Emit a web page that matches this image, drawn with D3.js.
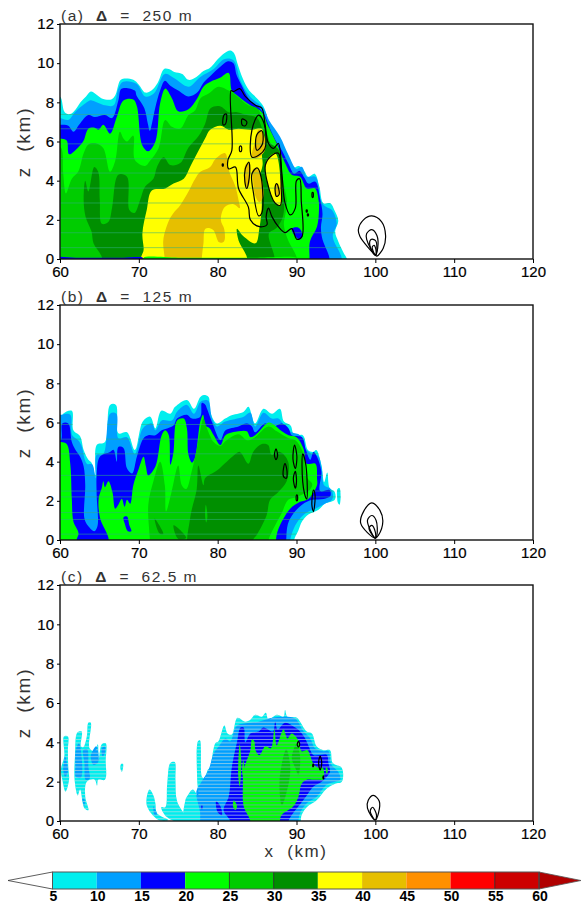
<!DOCTYPE html>
<html>
<head>
<meta charset="utf-8">
<script src="https://cdn.jsdelivr.net/npm/d3@7"></script>
<style>
body { margin: 0; background: #fff; }
text { font-family: "Liberation Sans", Arial, sans-serif; }
.tick text { font-family: "Liberation Sans Narrow", "Liberation Sans", sans-serif; font-size: 15px; fill: #000; stroke: #000; stroke-width: .2px; }
.lab { font-family: "Liberation Sans", sans-serif; fill: #333; font-size: 17px; letter-spacing: 1.6px; }
</style>
</head>
<body>
<div id="chart"></div>
<script>
// colour bar
var levels = [5, 10, 15, 20, 25, 30, 35, 40, 45, 50, 55, 60];
var cellColors = ['#00eeee', '#009fff', '#0000ff', '#00ff00', '#00cc00', '#008f00', '#ffff00', '#e6bf00', '#ff9000', '#ff0000', '#cd0000'];
var overColor = '#b00000';
var xTicks = [60, 70, 80, 90, 100, 110, 120];
var zTicks = [0, 2, 4, 6, 8, 10, 12];

// panel a, filled contours, [x km, z km]
var a5 = [[59,8.3],[60,8.3],[60.6,7.5],[61.3,7.4],[62,7.65],[62.6,8.0],[63.3,8.3],[63.9,8.55],[64.6,8.4],[65.3,8.2],[66.5,8.15],[67,8.35],[67.6,9.1],[68,9.2],[69.3,9.15],[70,8.9],[70.8,8.5],[71.6,8.6],[72.4,9.0],[73.2,9.7],[73.8,9.7],[74.5,9.55],[75.5,9.45],[76.3,9.15],[77.3,9.3],[78.2,9.6],[79,9.75],[80,10.2],[80.8,10.5],[81.6,10.65],[82.1,10.5],[82.5,10],[83.2,9.2],[84,8.6],[85,8.2],[85.8,7.8],[86.5,7.0],[87,6.4],[88,5.8],[88.8,5.2],[89.5,4.65],[90.3,4.75],[90.9,4.55],[91.5,4.2],[92.3,4.35],[92.9,3.7],[93.4,2.85],[94.3,2.85],[94.8,2.5],[95.3,1.95],[94.9,1.4],[95.3,0.9],[96,0.3],[96.4,0],[96.4,-0.5],[59,-0.5]];
var a10 = [[59,7.2],[60,7.2],[61.05,7.1],[61.9,7.5],[63.6,8.05],[64,8.1],[65.7,7.85],[66.8,7.85],[67.4,8.7],[68,9.05],[69.7,8.95],[70.8,8.3],[71.9,8.45],[73.3,9.45],[74.6,9.2],[76.3,8.8],[77.8,9.3],[79.5,9.7],[80.8,10.2],[82,10.15],[82.9,9.1],[84.1,8.3],[85.8,7.7],[86.5,7.1],[87.9,6.25],[89,5.3],[90,4.6],[90.7,4.7],[91.3,4.2],[92.4,4.2],[93.2,2.9],[93.8,2.65],[94.5,2.5],[95.1,1.8],[94.6,1.15],[95.7,0.1],[95.7,-0.5],[59,-0.5]];
var a15 = [[59,6.85],[60,6.85],[61.05,6.8],[61.7,6.5],[62.5,6.9],[63.6,7.35],[64.4,7.25],[65.7,7.35],[66.6,7.2],[67.4,8.1],[67.8,8.7],[69.5,8.6],[69.7,8.35],[70.7,7.7],[71.15,6.9],[71.4,6.55],[71.65,6.9],[72.1,7.75],[72.7,8.6],[73.3,9.1],[74,8.85],[75,8.6],[76.3,8.3],[77.4,8.5],[78.2,9.0],[79.2,9.4],[80.3,9.8],[81.3,10.1],[82,10],[82.4,9.4],[83,8.9],[84,8.15],[85.2,7.75],[85.9,7.4],[86.5,6.8],[87.3,6.1],[88.2,5.5],[89,4.85],[89.7,4.35],[90.4,4.5],[91,4.15],[91.5,3.85],[92.4,3.95],[93,3.05],[93.3,2.3],[93.1,1.6],[93.3,1.0],[94,0.3],[94.2,0],[94.2,-0.5],[59,-0.5]];
var a20 = [[59,6.15],[60,6.15],[60.85,6.05],[61.15,5.35],[62.3,5.7],[63,6.05],[63.6,6.65],[64.4,6.7],[64.9,6.6],[65.5,6.85],[66.35,6.4],[67.2,7.25],[68.05,8.1],[69.3,8.15],[69.75,7.8],[70.45,5.8],[71.2,5.5],[72.1,6],[72.7,7.95],[73.35,8.7],[74.2,8.2],[75,7.55],[76.3,7.65],[77.4,8.2],[78.2,8.8],[79.1,9.05],[80.3,9.25],[81.4,9.5],[81.8,8.6],[82.65,8.3],[84.15,7.85],[85.6,7.5],[86.45,6.75],[87.5,5.9],[88.55,4.9],[89.4,4.3],[90.45,4.2],[91.3,3.6],[92.35,3.6],[92.8,3],[92.85,2.5],[92.6,1.65],[91.7,0.9],[91.65,0.1],[91.65,-0.5],[59,-0.5]];
var a20hole = [[89.4,1.55],[90.25,1.6],[90.8,1.2],[90.45,1.0],[89.85,1.15]];
var a25 = [[59,5.7],[60.1,5.7],[60.4,4.4],[60.75,3.35],[61.5,4.1],[62.3,4.45],[63,5.4],[63.6,5.85],[64.65,5.9],[65.5,5.65],[66.35,4.45],[67,5],[67.6,6.5],[68.05,6.15],[68.5,6],[69.3,6.3],[69.5,5.05],[70.8,4.75],[71.4,5],[72.5,5.65],[73.35,7.1],[74.2,6.75],[75.25,6.65],[76.3,7.35],[77.15,7.6],[77.8,8.2],[78.85,8.45],[80.1,8.8],[81.4,8.6],[82.65,8.25],[83.9,7.85],[85,7.7],[85.8,7.0],[86.9,5.7],[87.9,5],[88.35,3.9],[88.8,2.9],[88.6,2.3],[88.4,1.75],[88.9,1.0],[90,0.1],[90,-0.5],[59,-0.5]];
var a30 = [[63.2,4.0],[63.6,3.45],[64.35,4.7],[64.85,4.45],[65.05,3],[65.3,1.8],[66.15,1.9],[66.6,2.6],[67.4,4.3],[68.5,4.2],[68.8,2.5],[69.45,2.35],[70.15,3],[70.8,3.7],[71.85,4.1],[72.3,4.7],[73.15,5.2],[74,4.8],[75.25,4.9],[76.3,5.7],[77.6,6.3],[78.4,6.9],[79.1,7.7],[80.3,7.8],[81.4,7.5],[82.45,7.5],[83.7,7.35],[85,7.2],[85.8,6.5],[86.7,5.9],[87.7,5.6],[88.2,4],[88.4,3],[88.3,2.2],[87.5,1.6],[86.5,1.3],[87.2,0.1],[87.2,-0.5],[65.3,-0.5],[65.3,0.1],[64.25,0.8],[64,1.4],[63.25,2.15],[63,3]];
var a35 = [[70.3,-0.5],[70.3,0.1],[70.6,0.45],[70.45,1.3],[71,2.5],[71.65,3.5],[73.35,3.6],[74.4,3.85],[75.7,4.1],[76.5,4.7],[77.6,5.55],[78.4,6.15],[79.05,6.6],[80.35,6.8],[81.4,6.6],[82.65,6.65],[84.2,6.6],[85.6,6.65],[85.8,6.25],[85.6,5.4],[85.7,4.8],[85.2,4],[85.6,2.85],[85.3,1.6],[84.8,0.8],[83.3,1.15],[82.45,1.55],[82.65,0.95],[83.7,0.1],[83.7,-0.5]];
var a35b = [[86.25,5.05],[87.3,5.4],[88,4],[88,2.75],[87.3,2.85],[86.25,4],[86.05,4.5]];
var a40 = [[73.25,-0.5],[73.25,0.1],[73.1,0.95],[73.75,1.9],[74.4,2.35],[75.25,2.75],[76.3,3.45],[77.15,4.1],[77.8,4.45],[79.05,4.7],[79.7,5.1],[80.95,5.4],[81.4,4.55],[82.25,3.7],[82.65,3],[82.8,2.6],[82,2.8],[80.9,2.65],[80.4,2],[80.85,1.5],[80.8,0.9],[80.2,0.85],[79.4,1.5],[78.45,1.55],[78.2,0.8],[78,0.1],[78,-0.5]];
var a40b = [[84.8,6.05],[85.2,6.6],[85.8,6.4],[86,5.55],[85,5.15],[84.35,5.2]];
var a40c = [[84.5,4.6],[85,4.6],[85.5,4.2],[85.8,3.2],[85.3,2.9],[84.8,3.2],[84.5,4]];
var a40d = [[83.5,4.8],[84,4.9],[84,3.8],[83.6,3.6]];
var a40e = [[87.3,3.8],[87.7,3.8],[87.85,3.3],[87.45,3.2]];
var a15floor = [[59,0.07],[62,0.07],[65,0.07],[68,0.07],[70.5,0.07],[70.6,0],[70.5,-0.07],[68,-0.07],[65,-0.07],[62,-0.07],[59,-0.07]];
var a20floor = [[70.6,0.07],[75,0.07],[80,0.07],[85,0.07],[90,0.07],[90.1,0],[90,-0.07],[85,-0.07],[80,-0.07],[75,-0.07],[70.6,-0.07]];

// panel a, black line contours
var aLines = [
  [[81.7,8.6],[82,8.55],[82.8,8.7],[83.5,8.3],[84.8,7.85],[85.6,7.7],[86,6.9],[86.45,5.9],[87.1,5.65],[87.7,5.9],[88.15,4.35],[88.55,2.85],[89.2,2.25],[89.85,2.6],[90,4.0],[90.4,4.1],[90.6,3],[90.7,1.15],[90.05,1.0],[89.4,1.55],[88.55,1.35],[87.7,1.65],[86.9,2.15],[86.45,2.6],[86.15,2.15],[86.25,1.75],[85.3,1.65],[84.15,2.0],[83.9,2.65],[82.65,3.6],[82.25,4.7],[81.4,4.6],[81.3,5.05],[81.8,5.55]],
  [[84.35,6.6],[85.2,7.35],[85.9,6.9],[86,5.65],[85.2,5.3],[84.35,5.2]],
  [[84.8,5.9],[85.05,6.4],[85.6,6.55],[85.7,5.9],[85,5.55]],
  [[83.5,4.6],[83.95,4.95],[84.05,4.35],[83.7,3.6],[83.45,3.95]],
  [[84.35,4.35],[85,4.65],[85.5,4.2],[85.6,2.35],[85.2,2.2],[84.55,3.35]],
  [[86.05,4.8],[86.9,5.3],[87.7,5.4],[88.05,3.7],[87.95,2.75],[87.3,2.85],[86.25,4]],
  [[87.5,3.85],[87.8,3.3],[87.45,3.2],[87.3,3.7]],
  [[80.8,7.35],[81.1,7.4],[81,6.9],[80.7,6.85]],
  [[83.1,7.15],[83.7,7.0],[83.5,6.8],[83.1,6.85]],
  [[82.8,5.75],[83,5.75],[83,5.5],[82.8,5.5]],
  [[92,3.4],[92.1,3.4],[92.1,3.15],[92,3.15]],
  [[91.25,2.5],[91.35,2.5],[91.35,2.4],[91.25,2.4]],
  [[91.4,2.3],[91.5,2.3],[91.5,2.2],[91.4,2.2]],
  [[80.6,4.85],[80.7,4.85],[80.7,4.75],[80.6,4.75]],
  [[100,0.2],[98.05,1.15],[97.85,1.5],[98.5,2],[99.55,2.2],[100.8,1.9],[101.3,1.2],[101,0.55],[100.2,0.15]],
  [[100,0.2],[98.9,1.0],[98.9,1.3],[99.55,1.5],[100.2,1.2],[100.3,0.55]],
  [[100,0.2],[99.3,0.7],[99.45,1.0],[100,0.95],[100.2,0.55]],
  [[100,0.2],[99.6,0.6],[99.85,0.7],[100.1,0.4]]
];
var aStripes = [0.58, 1.34, 2.08, 2.86, 3.62, 4.39, 5.12, 5.88, 6.65, 7.38];

// panel b, filled contours
var b5 = [[59,6],[60.1,6.05],[60.4,6.45],[61.5,6.6],[61.7,5.6],[62.55,5.3],[63,4.6],[63.6,4.1],[64,3.95],[64.5,3.3],[64.65,4.85],[65.7,5],[66.35,6.9],[67.1,6.9],[67.4,5.45],[68.5,5.5],[69.5,4.6],[70.5,6.05],[71.45,6.3],[72.1,5.7],[72.85,6.6],[74,6.45],[74.6,6.8],[76.1,7.15],[77,6.7],[77.8,7.3],[78.25,7.4],[78.85,7.3],[79.05,6.55],[79.9,5.95],[80.95,6.2],[81.6,6.35],[83.3,6.55],[83.9,6.8],[84.75,5.95],[85.8,6.7],[86.9,6.45],[87.9,6.7],[88.4,6.05],[89.25,5.85],[89.7,5.35],[90.8,5.35],[91.45,4.6],[92.1,4.5],[92.5,4.6],[93.15,3.85],[93.5,2.95],[93.9,3.45],[94.2,2.65],[94.85,2.45],[94.85,2.05],[93.6,1.85],[92.8,1.55],[91.5,1.3],[90.7,0.95],[90.25,0.5],[89.7,0],[89.7,-0.5],[59,-0.5]];
var b5b = [[95.2,2.6],[95.45,2.65],[95.6,2.2],[95.45,1.8],[95.25,1.9],[95.15,2.2]];
var b10 = [[59,6.3],[60.2,6.4],[61.3,6.4],[61.55,5.35],[62.3,5.1],[62.7,4.85],[63.4,3.9],[64.1,3.85],[64.5,3.15],[64.65,4.35],[65.5,4.4],[66.35,6.45],[67.15,6.45],[67.4,5.2],[68.5,5.25],[69.5,4.4],[70.5,5.7],[71.65,5.95],[72.1,5.6],[72.9,6.1],[74.2,6.1],[74.85,6.55],[76.1,6.9],[77,6.45],[77.8,7.05],[78.45,7.15],[78.85,7.1],[79.3,6.2],[79.9,5.8],[80.95,6.05],[83.3,6.3],[84.15,6.5],[84.75,5.8],[85.8,6.5],[86.9,6.2],[87.7,6.2],[88.55,5.8],[89.4,5.5],[90.45,5.35],[91.1,4.7],[92.1,4.35],[92.75,4.3],[93.2,3.65],[93.5,2.8],[94.2,2.65],[94.6,2.4],[94.5,2.05],[93.6,1.85],[92.4,1.6],[91.3,1.4],[90.45,1.1],[89.85,0.75],[89.2,0],[89.2,-0.5],[59,-0.5]];
var b15 = [[59,5.1],[60.1,5.1],[60.3,5.95],[61.05,5.95],[61.5,5.0],[61.9,4.65],[62.55,4.25],[63,3.75],[63.2,2.8],[63.1,1.1],[63.6,0.7],[64.35,0.45],[64.75,0.7],[64.65,2.3],[64.65,3.3],[65.05,4.25],[66.35,4.5],[66.8,4.6],[67.2,4],[67.4,4.75],[68.05,4.7],[68.5,3.65],[69.15,3.4],[69.75,4.25],[70.6,5.2],[71.2,5.35],[72.1,5.35],[72.9,5.6],[74.4,5.85],[74.85,6.2],[76.1,6.4],[76.75,6.2],[77.8,6.3],[78,7.0],[78.45,6.9],[78.65,6.7],[79.3,6],[80.35,5.1],[81,5.6],[82.65,5.8],[83.7,5.95],[84.35,5.8],[84.75,5.5],[86,5.95],[87.1,5.8],[88.15,5.95],[89,5.7],[89.4,5.35],[90.7,5.25],[91.2,4.6],[91.75,4.1],[92.15,4.5],[92.6,4.25],[93.15,3.5],[93,2.5],[94.2,2.55],[94.3,2.25],[93.45,2.1],[92,2.05],[90.7,1.8],[89.6,1.35],[88.9,0.8],[88.7,0],[88.7,-0.5],[59,-0.5]];
var b20 = [[59,5],[60.1,5.0],[60.85,4.9],[61.3,3.9],[61.5,2.1],[61.7,0.95],[62.35,0.35],[62.1,0],[62.1,-0.5],[59,-0.5]];
var b20b = [[66.15,-0.5],[66.15,0.1],[65.1,1.1],[64.9,2.1],[65.3,2.65],[65.5,3],[65.7,2.7],[66.15,3],[66.65,2.45],[67,1.6],[67.4,1.8],[67.85,2.1],[68.2,1.7],[68.5,2.05],[68.9,1.85],[69.3,2.8],[70,3.65],[70.6,4.25],[70.9,3.75],[71.2,3.3],[72.1,3.75],[72.9,5.35],[73.35,5.6],[73.8,5.35],[74,3.85],[74.4,4.5],[74.85,6.1],[75.7,6.2],[76.1,5.7],[76.3,4.35],[76.75,3.95],[77.15,4.25],[77.8,6.05],[78.15,6.4],[78.45,5.85],[79,5.7],[79.5,5.35],[80.35,4.85],[81,5.35],[82.65,5.55],[83.7,5.55],[84.15,5.25],[84.75,5.35],[86.45,6.0],[87.1,5.9],[88.15,5.55],[89,5.35],[90,5.25],[90.9,4.65],[91.3,3.9],[92.4,3.9],[92.6,3.15],[92.6,2.8],[91.5,2.1],[90.45,1.95],[89.2,1.6],[88.35,1.1],[87.6,0.45],[87.4,0],[87.4,-0.5]];
var b20hole = [[68.05,1.15],[68.5,1.2],[68.8,0.75],[69.05,0.45],[68.6,0.45],[68.2,0.85]];
var b25 = [[71.4,-0.5],[71.4,0],[71.2,1.8],[71.85,3],[72.7,4],[73.3,2.8],[73.45,1.45],[74.15,2.45],[75,3.8],[75.45,2.8],[76,2.6],[76.7,3.5],[77.35,4.65],[77.8,5.6],[78.2,6.2],[78.65,5.7],[79.5,5],[80.35,4.8],[81,5.05],[82.65,5.4],[83.7,5.1],[84.55,5.2],[86.45,5.8],[87.5,5.55],[89,5.2],[89.85,5.1],[90.7,4.6],[91,4.0],[91.3,3.2],[92,2.85],[91.55,2.5],[90,2.2],[88.95,2.05],[88.1,1.35],[87.3,0.75],[86.45,0],[86.45,-0.5]];
var b30 = [[76.5,-0.5],[76.5,1.1],[77.35,2.6],[77.55,3.8],[78.2,2.8],[78.4,3.15],[79.9,3.55],[81.15,4],[82,4.3],[82.8,4.5],[83.9,3.9],[84.5,4.5],[85.6,4.9],[86.4,4.85],[86.85,4.35],[87.9,4.5],[88.95,4],[88.75,3],[87.7,2.45],[86.65,2.05],[86.2,1.25],[84.95,0.25],[84.5,0],[84.5,-0.5]];
var b30b = [[72,1.1],[72.6,0.75],[73.1,0.3],[72.6,0.35]];
var b30c = [[74.4,0.75],[75,0.6],[76,0.1],[75,0.05]];
var b25hole = [[78.5,1.8],[78.7,1.2],[78.55,0.9],[78.4,1.3]];

var bLines = [
  [[87.4,4.65],[87.6,4.3],[87.4,4.1],[87.2,4.35]],
  [[88.55,3.9],[88.8,3.5],[88.7,3.15],[88.35,3.25],[88.35,3.65]],
  [[89.75,4.85],[90.05,4.25],[89.85,3.65],[89.55,4.15]],
  [[89.85,3.5],[90,3],[89.85,2.65],[89.6,3.15]],
  [[90.8,4.4],[91.2,3.8],[91.3,2.1],[91,2.4],[90.7,3.8]],
  [[92.15,2.55],[92.35,2.3],[92.15,1.45],[91.95,1.8]],
  [[90.05,2.3],[90.15,2.15],[90.05,2],[89.95,2.15]],
  [[100,0.1],[98.15,0.85],[98.5,1.45],[99.55,1.9],[100.6,1.5],[100.95,0.95],[100.4,0.25]],
  [[100,0.1],[99,1],[99.55,1.25],[100.1,1],[100.2,0.25]],
  [[100,0.1],[99.2,0.6],[99.55,0.75],[100,0.4]]
];
var bStripes = [0.3, 1.05, 1.4, 2.2, 2.5, 3.3, 4.4, 5.15, 5.9];

// panel c, filled contours
var c5a = [[60.5,4.3],[61,4.3],[61,3.6],[61.05,2.75],[61.15,2.1],[60.7,1.5],[60.3,2.1],[60.1,2.6],[60.55,3.3]];
var c5b = [[62.2,4.5],[62.75,4.55],[62.65,3.8],[62.95,3.75],[63.4,4.3],[63.6,5],[63.9,5],[63.75,3.7],[64.4,3.55],[64.8,3.9],[64.9,3.1],[65.3,3.9],[65.8,3.95],[65.8,3.1],[65.7,2.1],[64.85,2.1],[64.7,1.8],[64.4,2.1],[63.4,2],[63.2,1.25],[63.6,0.55],[63.1,0.65],[62.55,1.6],[62.25,1.3],[61.85,2.1],[61.9,3.3]];
var c5c = [[67.75,2.9],[68,2.9],[67.85,2.5],[67.65,2.7]];
var c5d = [[71.35,1.6],[71.85,1.3],[72.1,0.9],[72.3,0.4],[73.75,0.05],[72.5,0.05],[71,0.8]];
var c5e = [[74,2.95],[74.55,3],[74.65,2.1],[74.85,1],[76.3,-0.1],[75.25,-0.1],[73.55,0.2],[72.85,0.7],[73.35,0.7],[73.6,1.9]];
var c5f = [[76.1,-0.5],[75.9,1.05],[76.2,1.3],[76.85,1.6],[77.5,1.3],[77.4,2.1],[77.5,4.05],[77.75,4.1],[78,2.25],[78.3,2.15],[78.75,2.6],[79.05,2.75],[79.7,3.95],[80.1,4.05],[80.85,4.85],[81.25,4.45],[81.8,4.4],[82.5,5.25],[83.5,5.05],[84.15,5.15],[84.75,5.4],[85.6,5.3],[86.1,5.5],[86.45,5.15],[87.5,5.4],[88.35,5.3],[88.55,5.65],[88.85,5.3],[90.05,5.25],[90.45,5.05],[91.3,4.55],[91.95,4.45],[92.55,3.8],[93.4,3.6],[94.25,3.6],[94.6,2.95],[95.75,2.7],[95.75,2],[94.9,1.9],[93.85,1.65],[92.55,1.05],[91.3,0.7],[90.65,0.3],[90.55,0],[90.55,-0.5]];
var c10a = [[60.65,3.3],[60.85,3],[61,2.5],[60.65,2.25],[60.4,2.6],[60.5,2.95]];
var c10b = [[62,3.6],[62.4,3.95],[62.65,3.6],[62.65,2.2],[62,2.25],[61.95,2.75]];
var c10c = [[62.95,3.6],[63.45,3.65],[63.6,2.75],[63.75,2.15],[63.25,2.1],[63.1,2.95]];
var c10d = [[63.9,3.3],[64.6,3.8],[64.85,3],[64.25,2.85]];
var c10e = [[65.3,3.7],[65.7,3.8],[65.7,3.45],[65.4,3.3]];
var c10f = [[62.85,1.15],[63.1,1.1],[63.1,0.75]];
var c10g = [[71.85,0.75],[72.3,0.3],[72,0.3]];
var c10h = [[78.2,-0.5],[77.75,0.5],[77.3,1.5],[77.95,2],[78.85,2.6],[79.5,3.45],[80.15,3.8],[81,4.2],[81.6,4.05],[82.25,4.75],[82.65,4.9],[84.15,5],[85.2,5.05],[86.9,5.25],[88.55,5.3],[89.85,5.2],[90.9,4.55],[91.75,4.2],[92.35,3.7],[93.4,3.55],[94.05,3.55],[94.45,2.85],[95.3,2.5],[95.55,2.1],[94.9,2],[93.85,1.85],[92.6,1.25],[91.3,0.9],[90.45,0.4],[90.25,0],[90.25,-0.5]];
var c15a = [[81.6,-0.5],[81.6,0],[80.75,0.55],[81.4,1.25],[81.8,2.75],[82.45,4],[82.9,4.75],[83.3,4.75],[83.5,4],[84.15,4.45],[85.2,4.55],[85.8,4.75],[87,4.55],[87.3,5.05],[87.6,4.65],[88.55,5],[89.85,4.75],[90.45,4.55],[91.1,4.2],[91.55,3.8],[92.15,3.35],[93,3.35],[93.85,3.35],[94.05,2.95],[94.25,2.5],[93.85,2.25],[93.2,2],[92.15,1.75],[91.3,1.3],[90.25,0.75],[89.4,0.3],[89,0],[89,-0.5]];
var c15b = [[79.8,1],[80.35,0.75],[80.55,0.3],[80,0.45]];
var c15c = [[77.95,0.8],[78.05,0.8],[78.05,0.6],[77.95,0.6]];
var c20a = [[84.15,-0.5],[84.15,0],[83.3,0.75],[83.2,1.75],[83.3,2.6],[84.15,3.6],[84.35,4.15],[84.65,4.05],[84.8,3.6],[85.3,3.35],[86.05,3.8],[86.75,3.7],[87.2,4.65],[87.5,3.85],[88.35,4.65],[88.85,4.2],[89.4,4.45],[90.25,4.1],[90.65,3.55],[91.4,3.6],[91.75,3.3],[92.15,2.9],[92.8,2.7],[93.35,2.7],[93.5,2.25],[93.35,2.1],[92.9,2.1],[91.95,2.1],[91.3,2.1],[90.65,1.9],[90.25,1.25],[89.6,0.75],[88.1,0.3],[87.9,0],[87.9,-0.5]];
var c20b = [[82.8,3.9],[83,2.95],[82.8,1.75],[82.6,2.4]];
var c20c = [[83.25,3.1],[83.4,2.6],[83.25,2.2],[83.1,2.6]];
var c20d = [[82.05,1.05],[82.45,0.75],[82.25,0.55],[81.95,0.75]];
var c20e = [[93.75,2.75],[94,2.6],[93.85,2.4],[93.7,2.55]];
var c25a = [[88.7,3.65],[89.2,2.8],[89,1.9],[88.15,0.8],[87.85,2.1]];
var c25b = [[90,3.9],[90.45,3.3],[90.25,2.35],[89.85,2.7],[89.4,3.2]];

var cLines = [
  [[90.25,4.05],[90.4,3.9],[90.25,3.75],[90.1,3.9]],
  [[93,3.3],[93.2,2.95],[93,2.6],[92.8,2.95]],
  [[92.1,2.9],[92.2,2.85],[92.1,2.75],[92.05,2.82]],
  [[93.4,2.3],[93.45,2.2],[93.4,2.15],[93.35,2.2]],
  [[100,0.05],[99,0.65],[99.1,1.05],[99.75,1.3],[100.5,1],[100.4,0.4]],
  [[100,0.05],[99.35,0.5],[99.65,0.7],[100.15,0.3]]
];
var cStripes = d3.range(0.12, 5.6, 0.175);

var panels = [
  { title: '(a)', label: '250 m', top: 24, bottom: 259, lines: aLines, stripes: aStripes, stripeColor: '#30b080', stripeWidth: 1, stripeOpacity: .55,
    fills: [[5,a5],[10,a10],[15,a15],[20,a20],[15,a20hole],[25,a25],[30,a30],[35,a35],[35,a35b],[40,a40],[40,a40b],[40,a40c],[40,a40d],[40,a40e],[15,a15floor],[20,a20floor]] },
  { title: '(b)', label: '125 m', top: 305, bottom: 540, lines: bLines, stripes: bStripes, stripeColor: '#30b080', stripeWidth: 1, stripeOpacity: .55,
    fills: [[5,b5],[5,b5b],[10,b10],[15,b15],[20,b20],[20,b20b],[15,b20hole],[25,b25],[30,b30],[30,b30b],[30,b30c],[25,b25hole]] },
  { title: '(c)', label: '62.5 m', top: 585, bottom: 821, lines: cLines, stripes: cStripes, stripeColor: '#c8e0e0', stripeWidth: .8, stripeOpacity: .8, innerColor: '#109a50',
    fills: [[5,c5a],[5,c5b],[5,c5c],[5,c5d],[5,c5e],[5,c5f],[10,c10a],[10,c10b],[10,c10c],[10,c10d],[10,c10e],[10,c10f],[10,c10g],[10,c10h],[15,c15a],[15,c15b],[15,c15c],[20,c20a],[20,c20b],[20,c20c],[20,c20d],[20,c20e],[25,c25a],[25,c25b]] }
];

var width = 582, height = 903;
var svg = d3.select('#chart').append('svg')
    .attr('width', width)
    .attr('height', height)
    .style('display', 'block');

var color = d3.scaleOrdinal().domain(levels.slice(0, 11)).range(cellColors);
var x = d3.scaleLinear().domain([60, 120]).range([60, 533]);

panels.forEach(function (p, i) {
    var z = d3.scaleLinear().domain([0, 12]).range([p.bottom, p.top]);
    var path = d3.line()
        .x(function (d) { return x(d[0]); })
        .y(function (d) { return z(d[1]); })
        .curve(d3.curveCatmullRomClosed.alpha(.5));

    svg.append('clipPath').attr('id', 'plot' + i)
        .append('rect')
        .attr('x', x(60)).attr('y', p.top)
        .attr('width', x(120) - x(60)).attr('height', p.bottom - p.top);

    // the pale lines only show where something is filled
    function clipLevel(id, level) {
        svg.append('clipPath').attr('id', id)
            .selectAll('path')
            .data(p.fills.filter(function (d) { return d[0] == level; }))
            .join('path')
            .attr('d', function (d) { return path(d[1]); });
    }
    clipLevel('shaded' + i, 5);
    clipLevel('inner' + i, 20);

    function drawStripes(parent, clip, stroke) {
        parent.append('g').attr('clip-path', 'url(#' + clip + ')')
            .selectAll('line')
            .data(p.stripes)
            .join('line')
            .attr('x1', x(60)).attr('x2', x(120))
            .attr('y1', function (d) { return z(d); })
            .attr('y2', function (d) { return z(d); })
            .attr('stroke', stroke)
            .attr('stroke-width', p.stripeWidth)
            .attr('stroke-opacity', p.stripeOpacity);
    }

    var g = svg.append('g').attr('clip-path', 'url(#plot' + i + ')');
    g.selectAll('.fill')
        .data(p.fills)
        .join('path')
        .attr('class', 'fill')
        .attr('fill', function (d) { return color(d[0]); })
        .attr('d', function (d) { return path(d[1]); });

    drawStripes(g, 'shaded' + i, p.stripeColor);
    if (p.innerColor) drawStripes(g, 'inner' + i, p.innerColor);

    g.selectAll('.contour')
        .data(p.lines)
        .join('path')
        .attr('class', 'contour')
        .attr('fill', 'none')
        .attr('stroke', '#000')
        .attr('stroke-width', 1.2)
        .attr('d', path);

    svg.append('rect')
        .attr('x', x(60)).attr('y', p.top)
        .attr('width', x(120) - x(60)).attr('height', p.bottom - p.top)
        .attr('fill', 'none').attr('stroke', '#111').attr('stroke-width', 1.4);

    svg.append('g')
        .attr('transform', 'translate(0,' + p.bottom + ')')
        .call(d3.axisBottom(x).tickValues(xTicks).tickSize(4).tickPadding(3))
        .call(function (a) { a.select('.domain').remove(); });
    svg.append('g')
        .attr('transform', 'translate(60,0)')
        .call(d3.axisLeft(z).tickValues(zTicks).tickSize(3).tickPadding(3))
        .call(function (a) { a.select('.domain').remove(); });

    var title = svg.append('text')
        .attr('class', 'lab')
        .attr('x', 61).attr('y', p.top - 3)
        .attr('xml:space', 'preserve')
        .style('font-size', '15.5px')
        .style('letter-spacing', '1.5px');
    title.append('tspan').text(p.title + '  ');
    title.append('tspan').style('font-weight', 'bold').text('\u0394');
    title.append('tspan').text('  =  ' + p.label);

    svg.append('text')
        .attr('class', 'lab')
        .attr('transform', 'translate(30,' + (p.top + 118) + ')rotate(-90)')
        .attr('text-anchor', 'middle')
        .attr('xml:space', 'preserve')
        .style('font-size', '19px')
        .style('letter-spacing', '1.8px')
        .text('z  (km)');
});

svg.append('text')
    .attr('class', 'lab')
    .attr('x', 296).attr('y', 857)
    .attr('text-anchor', 'middle')
    .attr('xml:space', 'preserve')
    .text('x  (km)');

// colour bar
var bar = d3.scaleLinear().domain([5, 60]).range([52.5, 539]);
var barTop = 872, barBottom = 889;
var mid = (barTop + barBottom) / 2;

svg.append('path')
    .attr('d', d3.line()([[bar(5), barTop], [8, mid], [bar(5), barBottom]]))
    .attr('fill', '#fff').attr('stroke', '#333').attr('stroke-width', .8);
svg.append('path')
    .attr('d', d3.line()([[bar(60), barTop], [581, mid], [bar(60), barBottom]]))
    .attr('fill', overColor).attr('stroke', '#555').attr('stroke-width', .8);

svg.selectAll('.cell')
    .data(levels.slice(0, 11))
    .join('rect')
    .attr('class', 'cell')
    .attr('x', function (d) { return bar(d); })
    .attr('y', barTop)
    .attr('width', function (d) { return bar(d + 5) - bar(d); })
    .attr('height', barBottom - barTop)
    .attr('fill', function (d) { return color(d); });

svg.selectAll('.sep')
    .data([25, 30, 55, 60])
    .join('line')
    .attr('class', 'sep')
    .attr('x1', function (d) { return bar(d); })
    .attr('x2', function (d) { return bar(d); })
    .attr('y1', barTop).attr('y2', barBottom)
    .attr('stroke', '#222').attr('stroke-width', .8);

svg.append('rect')
    .attr('x', bar(5)).attr('y', barTop)
    .attr('width', bar(60) - bar(5)).attr('height', barBottom - barTop)
    .attr('fill', 'none').attr('stroke', '#555').attr('stroke-width', 1);

svg.selectAll('.barlabel')
    .data(levels)
    .join('text')
    .attr('class', 'barlabel')
    .attr('x', function (d) { return bar(d) + 1; })
    .attr('y', 901)
    .attr('text-anchor', 'middle')
    .style('font-family', '"Liberation Sans Narrow", "Liberation Sans", sans-serif')
    .style('font-size', '14px')
    .style('font-weight', 'bold')
    .text(function (d) { return d; });
</script>
</body>
</html>
